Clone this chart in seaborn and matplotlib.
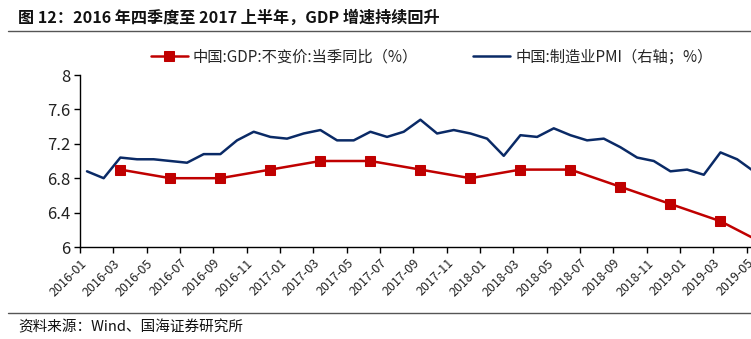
import numpy as np
import pandas as pd
import matplotlib
matplotlib.use("Agg")
import matplotlib.pyplot as plt
import seaborn as sns

# ---- data ----
months = [f"{y}-{m:02d}" for y in (2016, 2017, 2018, 2019) for m in range(1, 13)][:42]
pmi = [49.4, 49.0, 50.2, 50.1, 50.1, 50.0, 49.9, 50.4, 50.4, 51.2, 51.7, 51.4,
       51.3, 51.6, 51.8, 51.2, 51.2, 51.7, 51.4, 51.7, 52.4, 51.6, 51.8, 51.6,
       51.3, 50.3, 51.5, 51.4, 51.9, 51.5, 51.2, 51.3, 50.8, 50.2, 50.0, 49.4,
       49.5, 49.2, 50.5, 50.1, 49.4, 49.4]
gdp_months = ["2016-03", "2016-06", "2016-09", "2016-12",
              "2017-03", "2017-06", "2017-09", "2017-12",
              "2018-03", "2018-06", "2018-09", "2018-12",
              "2019-03", "2019-06"]
gdp = [6.9, 6.8, 6.8, 6.9, 7.0, 7.0, 6.9, 6.8, 6.9, 6.9, 6.7, 6.5, 6.3, 6.0]
tick_labels = months[0:41:2]
y_ticks = [6, 6.4, 6.8, 7.2, 7.6, 8]
y_tick_labels = ["6", "6.4", "6.8", "7.2", "7.6", "8"]

gdp_name = "中国:GDP:不变价:当季同比（%）"
pmi_name = "中国:制造业PMI（右轴；%）"

df_pmi = pd.DataFrame({"x": [months.index(m) for m in months], "v": pmi})
df_gdp = pd.DataFrame({"x": [months.index(m) for m in gdp_months], "v": gdp})

sns.set_theme(style="white")
plt.rcParams["font.family"] = ["Noto Sans CJK SC", "DejaVu Sans"]
plt.rcParams["axes.unicode_minus"] = False

RED = "#C00000"
BLUE = "#0A2A66"
W, H = 751, 339
fig = plt.figure(figsize=(W / 100, H / 100), dpi=100)

left_px, right_px, bottom_px, top_px = 80, 800, 247, 75
ax = fig.add_axes([left_px / W, (H - bottom_px) / H,
                   (right_px - left_px) / W, (bottom_px - top_px) / H])
ax2 = ax.twinx()

sns.lineplot(data=df_gdp, x="x", y="v", ax=ax, color=RED, linewidth=1.8,
             marker="s", markersize=7, markeredgecolor=RED, label=gdp_name, legend=False)
sns.lineplot(data=df_pmi, x="x", y="v", ax=ax2, color=BLUE, linewidth=1.8,
             label=pmi_name, legend=False)

off = -0.42
px_per_month = 16.67
ax.set_xlim(off, off + (right_px - left_px) / px_per_month)
ax.set_ylim(6, 8)
ax2.set_ylim(45, 55)
ax.set_yticks(y_ticks)
ax.set_yticklabels(y_tick_labels, fontsize=12, color="#222222")
ax.set_xticks(np.arange(0, 41, 2) + off)
ax.set_xticklabels(tick_labels, rotation=45, ha="right", rotation_mode="anchor",
                   fontsize=9, color="#222222")
ax.set_xlabel("")
ax.set_ylabel("")
ax2.set_ylabel("")
ax.tick_params(axis="both", direction="out", length=4, width=1, color="black",
               left=True, bottom=True, pad=3)
ax.tick_params(axis="x", pad=3)
ax2.tick_params(axis="y", right=False, labelright=False)
for a in (ax, ax2):
    a.spines["top"].set_visible(False)
    a.set_facecolor("none")
ax.spines["right"].set_visible(False)
ax2.spines["left"].set_visible(False)
ax2.spines["right"].set_visible(False)
ax.spines["left"].set_color("black")
ax.spines["bottom"].set_color("black")
ax.spines["left"].set_linewidth(1)
ax.spines["bottom"].set_linewidth(1)
ax2.spines["bottom"].set_visible(False)
ax.set_zorder(ax2.get_zorder() + 1)

# legend
h1, l1 = ax.get_legend_handles_labels()
h2, l2 = ax2.get_legend_handles_labels()
fig.legend(h1 + h2, l1 + l2, loc="center left", bbox_to_anchor=(151 / W, 1 - 57 / H),
           ncol=2, frameon=False, fontsize=11, handlelength=2.4, handletextpad=0.35,
           columnspacing=3.6, borderaxespad=0, borderpad=0)

# title, rules, source
fig.text(18 / W, 1 - 18 / H, "图 12：2016 年四季度至 2017 上半年，GDP 增速持续回升",
         fontsize=11.6, fontweight="bold", ha="left", va="center", color="#111111")
fig.add_artist(plt.Line2D([8 / W, 1], [1 - 31 / H, 1 - 31 / H], color="#555555", linewidth=1))
fig.add_artist(plt.Line2D([8 / W, 1], [1 - 313 / H, 1 - 313 / H], color="#555555", linewidth=1))
fig.text(18 / W, 1 - 327 / H, "资料来源：Wind、国海证券研究所", fontsize=10.5,
         ha="left", va="center", color="#111111")

fig.savefig("out.png", dpi=100)
